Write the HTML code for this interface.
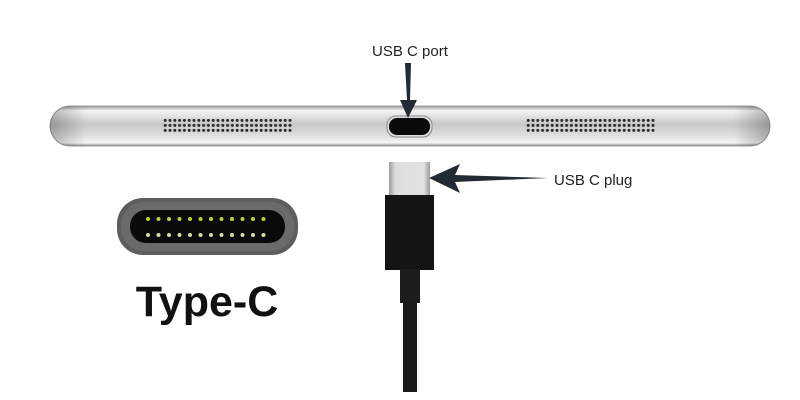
<!DOCTYPE html>
<html><head><style>
body{margin:0;width:800px;height:400px;background:#fff;position:relative;overflow:hidden;font-family:"Liberation Sans",sans-serif}
.t{position:absolute;font-size:15px;color:#222}
</style></head><body>
<svg width="800" height="400" style="position:absolute;left:0;top:0">
<defs>
<linearGradient id="bar" x1="0" y1="0" x2="0" y2="1">
<stop offset="0" stop-color="#9a9a9a"/><stop offset="0.12" stop-color="#f4f4f4"/><stop offset="0.45" stop-color="#c8c8c8"/><stop offset="0.75" stop-color="#e0e0e0"/><stop offset="0.92" stop-color="#f6f6f6"/><stop offset="1" stop-color="#8a8a8a"/>
</linearGradient>
<linearGradient id="ends" x1="0" y1="0" x2="1" y2="0">
<stop offset="0" stop-color="#000" stop-opacity="0.25"/><stop offset="0.05" stop-color="#000" stop-opacity="0"/><stop offset="0.95" stop-color="#000" stop-opacity="0"/><stop offset="1" stop-color="#000" stop-opacity="0.25"/>
</linearGradient>
<pattern id="grill" x="163" y="118" width="4.8" height="5" patternUnits="userSpaceOnUse"><circle cx="2.2" cy="2.4" r="1.5" fill="#2a2a2a"/></pattern>
<pattern id="grill2" x="526" y="118" width="4.8" height="5" patternUnits="userSpaceOnUse"><circle cx="2.2" cy="2.4" r="1.5" fill="#2a2a2a"/></pattern>
<linearGradient id="metal" x1="0" y1="0" x2="1" y2="0"><stop offset="0" stop-color="#999"/><stop offset="0.15" stop-color="#ddd"/><stop offset="0.85" stop-color="#e2e2e2"/><stop offset="1" stop-color="#999"/></linearGradient>
</defs>
<rect x="50" y="106" width="720" height="40" rx="20" fill="url(#bar)" stroke="#999" stroke-width="1"/>
<rect x="50" y="106" width="720" height="40" rx="20" fill="url(#ends)"/>
<rect x="163" y="118" width="130" height="15" fill="url(#grill)"/>
<rect x="526" y="118" width="130" height="15" fill="url(#grill2)"/>
<rect x="387" y="116" width="45" height="21" rx="9" fill="#ddd" stroke="#888"/>
<rect x="389" y="118" width="41" height="17" rx="8" fill="#0a0a0a"/>
<polygon points="405,63 411,63 410,100 417,100 408,118 400,100 407,100" fill="#222a33"/>
<polygon points="429,178 460,164 455,175 548,178 455,182 460,193" fill="#222a33"/>
<rect x="389" y="162" width="41" height="34" fill="url(#metal)"/>
<rect x="385" y="195" width="49" height="75" fill="#141414"/>
<rect x="400" y="269" width="20" height="34" fill="#1c1c1c"/>
<rect x="403" y="302" width="14" height="90" fill="#1a1a1a"/>
<rect x="117" y="198" width="181" height="57" rx="26" fill="#5d5d5d"/>
<rect x="121" y="202" width="173" height="49" rx="23" fill="#6a6a6a"/>
<rect x="130" y="210" width="155" height="33" rx="16" fill="#0a0a0a"/>
<g fill="#b8d43a">
<circle cx="148" cy="219" r="2"/><circle cx="158.5" cy="219" r="2"/><circle cx="169" cy="219" r="2"/><circle cx="179.5" cy="219" r="2"/><circle cx="190" cy="219" r="2"/><circle cx="200.5" cy="219" r="2"/><circle cx="211" cy="219" r="2"/><circle cx="221.5" cy="219" r="2"/><circle cx="232" cy="219" r="2"/><circle cx="242.5" cy="219" r="2"/><circle cx="253" cy="219" r="2"/><circle cx="263.5" cy="219" r="2"/>
</g>
<g fill="#d8dca0">
<circle cx="148" cy="235" r="2"/><circle cx="158.5" cy="235" r="2"/><circle cx="169" cy="235" r="2"/><circle cx="179.5" cy="235" r="2"/><circle cx="190" cy="235" r="2"/><circle cx="200.5" cy="235" r="2"/><circle cx="211" cy="235" r="2"/><circle cx="221.5" cy="235" r="2"/><circle cx="232" cy="235" r="2"/><circle cx="242.5" cy="235" r="2"/><circle cx="253" cy="235" r="2"/><circle cx="263.5" cy="235" r="2"/>
</g>
<text x="207" y="316" text-anchor="middle" font-family="Liberation Sans, sans-serif" font-weight="bold" font-size="43" fill="#111">Type-C</text>
</svg>
<div class="t" style="left:372px;top:43px">USB C port</div>
<div class="t" style="left:554px;top:172px">USB C plug</div>
</body></html>
